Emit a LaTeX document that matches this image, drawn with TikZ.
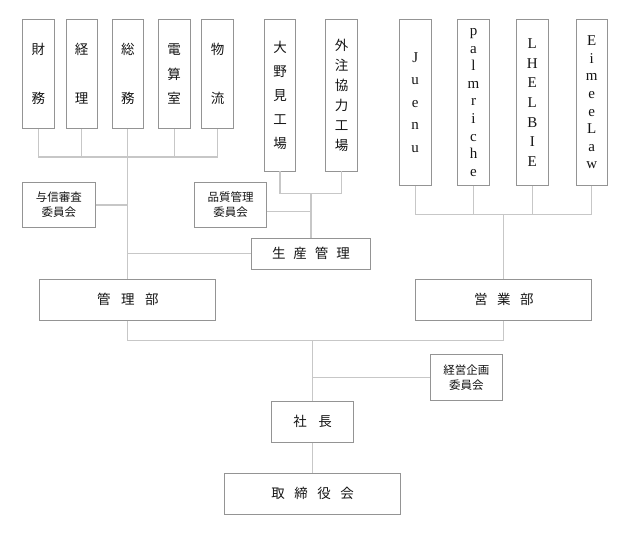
\documentclass[tikz,border=0pt]{standalone}
\usepackage{fontspec}
\setmainfont{Noto Sans CJK JP}
\newfontfamily\lat{Liberation Serif}
\begin{document}
\begin{tikzpicture}[x=1pt,y=-1pt,
  box/.style={draw=black!42,line width=0.9pt,inner sep=0pt,align=center,text=black!92},
  col/.style={box,minimum width=31.5pt},
  wide/.style={box,minimum width=176pt,minimum height=41pt,font=\fontsize{13.5}{15}\selectfont},
  cmt/.style={box,minimum width=72.5pt,minimum height=45.5pt,font=\fontsize{11.5}{15}\selectfont},
  conn/.style={draw=black!22,line width=1.3pt}]
\useasboundingbox (0,0) rectangle (633,534);
% top columns (administration)
\node[col,minimum height=109.4pt,font=\fontsize{13.5}{49}\selectfont] (zaimu) at (38.3,74) {財\\務};
\node[col,minimum height=109.4pt,font=\fontsize{13.5}{49}\selectfont] (keiri) at (81.7,74) {経\\理};
\node[col,minimum height=109.4pt,font=\fontsize{13.5}{49}\selectfont] (soumu) at (127.8,74) {総\\務};
\node[col,minimum height=109.4pt,font=\fontsize{13.5}{24.5}\selectfont] (densan) at (174.2,74) {電\\算\\室};
\node[col,minimum height=109.4pt,font=\fontsize{13.5}{49}\selectfont] (butsu) at (217.5,74) {物\\流};
% factories
\node[col,minimum height=151.7pt,font=\fontsize{13.5}{24}\selectfont] (oonomi) at (280,95.2) {大\\野\\見\\工\\場};
\node[col,minimum height=151.7pt,font=\fontsize{13.5}{20}\selectfont] (gaichu) at (341.5,95.2) {外\\注\\協\\力\\工\\場};
% brands
\node[col,minimum height=166.4pt,font=\lat\fontsize{15}{22.5}\selectfont] (juenu) at (415.2,102.5) {J\\u\\e\\n\\u};
\node[col,minimum height=166.4pt,font=\lat\fontsize{15}{17.6}\selectfont] (palm) at (473.5,102.5) {p\\a\\l\\m\\r\\i\\c\\h\\e};
\node[col,minimum height=166.4pt,font=\lat\fontsize{15}{19.7}\selectfont] (lhelbie) at (532.3,102.5) {L\\H\\E\\L\\B\\I\\E};
\node[col,minimum height=166.4pt,font=\lat\fontsize{15}{17.6}\selectfont] (eimee) at (591.7,102.5) {E\\i\\m\\e\\e\\L\\a\\w};
% committees
\node[cmt] (yoshin) at (58.8,205) {与信審査\\委員会};
\node[cmt] (hinshitsu) at (230.5,205) {品質管理\\委員会};
\node[cmt] (keiei) at (466.3,377.7) {経営企画\\委員会};
% departments
\node[box,minimum width=118.3pt,minimum height=31pt,font=\fontsize{13.5}{15}\selectfont] (seisan) at (311,253.8) {生\hspace{8pt}産\hspace{8pt}管\hspace{8pt}理};
\node[wide] (kanri) at (127.8,299.7) {管\hspace{10.5pt}理\hspace{10.5pt}部};
\node[wide] (eigyo) at (503.8,299.8) {営\hspace{9.5pt}業\hspace{9.5pt}部};
\node[box,minimum width=81.6pt,minimum height=41.3pt,font=\fontsize{13.5}{15}\selectfont] (shacho) at (312.7,421.7) {社\hspace{11.5pt}長};
\node[wide] (tori) at (312.7,493.8) {取\hspace{9.5pt}締\hspace{9.5pt}役\hspace{9.5pt}会};
% junction coordinates
\coordinate (j1) at (128,157);
\coordinate (j2) at (311,193.3);
\coordinate (j3) at (504,214.3);
\coordinate (j4) at (313,340.5);
% connectors: admin columns
\foreach \n in {zaimu,keiri,densan,butsu} \draw[conn] (\n.south) -- (\n.south |- j1);
\draw[conn] (zaimu.south |- j1) -- (butsu.south |- j1);
\draw[conn] (soumu.south) -- (kanri.north);
\draw[conn] (yoshin.east) -- (yoshin.east -| soumu.south);
% factories
\draw[conn] (oonomi.south) -- (oonomi.south |- j2) -- (gaichu.south |- j2) -- (gaichu.south);
\draw[conn] (seisan.north |- j2) -- (seisan.north);
\draw[conn] ([yshift=-6.7pt]hinshitsu.east) -- ([yshift=-6.7pt]hinshitsu.east -| seisan.north);
\draw[conn] (seisan.west -| soumu.south) -- (seisan.west);
% brands
\foreach \n in {juenu,palm,lhelbie,eimee} \draw[conn] (\n.south) -- (\n.south |- j3);
\draw[conn] (juenu.south |- j3) -- (eimee.south |- j3);
\draw[conn] (eigyo.north |- j3) -- (eigyo.north);
% bottom
\draw[conn] (kanri.south) -- (kanri.south |- j4) -- (eigyo.south |- j4) -- (eigyo.south);
\draw[conn] (shacho.north |- j4) -- (shacho.north);
\draw[conn] (keiei.west) -- (keiei.west -| shacho.north);
\draw[conn] (shacho.south) -- (tori.north);
\end{tikzpicture}
\end{document}
